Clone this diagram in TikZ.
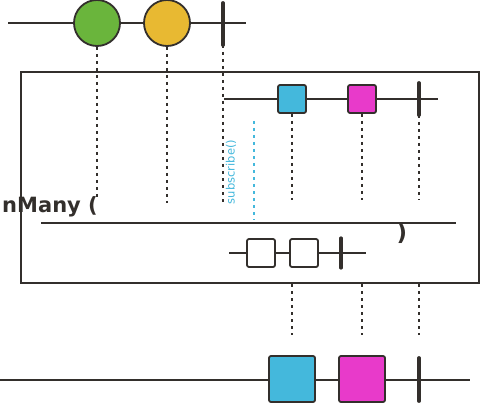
\documentclass[tikz,border=0pt]{standalone}
\usepackage{fontspec}
\setmainfont{DejaVu Sans}
\usetikzlibrary{positioning}
\definecolor{ink}{HTML}{332F2C}
\definecolor{lime}{HTML}{6AB53C}
\definecolor{gold}{HTML}{E8B932}
\definecolor{sky}{HTML}{44B8DC}
\definecolor{pink}{HTML}{E83ACA}

\begin{document}
\begin{tikzpicture}[x=1pt,y=-1pt]
\tikzstyle{marble}=[circle,draw=ink,line width=1.8pt,minimum size=46pt,inner sep=0pt]
\tikzstyle{item}=[draw=ink,line width=1.8pt,rounded corners=2pt,minimum size=28pt,inner sep=0pt]
\tikzstyle{bigitem}=[item,minimum size=46pt]
\tikzstyle{timeline}=[draw=ink,line width=1.9pt]
\tikzstyle{done}=[draw=ink,line width=3.8pt,line cap=round]
\tikzstyle{drop}=[draw=ink,line width=2pt,dash pattern=on 3pt off 4pt]
\useasboundingbox (0,0) rectangle (496,404);
% source
\foreach \name/\point in {
	s0/{8,23},
	s1/{246,23},
	st/{223,3},
	sb/{223,45}}
	\coordinate (\name) at (\point);
\draw[timeline] (s0) -- (s1);
\node[marble,fill=lime] (green) at (97,23) {};
\node[marble,fill=gold] (yellow) at (167,23) {};
\draw[done] (st) -- (sb);
% operator box
\node[draw=ink,line width=1.8pt,minimum width=458pt,minimum height=211pt,inner sep=0pt] (frame) at (250,177.5) {};
\foreach \name/\point in {
	i0/{224,99},
	i1/{438,99},
	it/{419,83},
	ib/{419,115},
	m0/{41,223},
	m1/{456,223},
	w0/{229,253},
	w1/{366,253},
	wt/{341,238},
	wb/{341,268},
	sub0/{254,121},
	sub1/{254,220}}
	\coordinate (\name) at (\point);
\draw[timeline] (i0) -- (i1);
\node[item,fill=sky] (inblue) at (292,99) {};
\node[item,fill=pink] (inpink) at (362,99) {};
\draw[done] (it) -- (ib);
\draw[timeline] (m0) -- (m1);
\draw[timeline] (w0) -- (w1);
\node[item,fill=white] (win1) at (261,253) {};
\node[item,fill=white] (win2) at (304,253) {};
\draw[done,line width=3.2pt] (wt) -- (wb);
\draw[sky,line width=2pt,dash pattern=on 3pt off 4pt] (sub0) -- (sub1);
\node[sky,rotate=90,font=\fontsize{11.5}{12}\selectfont,inner sep=0pt] (subscr) at (231,172) {subscribe()};
\node[ink,anchor=base east,font=\fontsize{21}{22}\selectfont\bfseries,inner sep=0pt] (opname) at (98,212) {nMany (};
\node[ink,font=\fontsize{23}{24}\selectfont\bfseries,inner sep=0pt] (close) at (402,233) {)};
% result
\foreach \name/\point in {
	r0/{0,380},
	r1/{470,380},
	rt/{419,358},
	rb/{419,401}}
	\coordinate (\name) at (\point);
\draw[timeline] (r0) -- (r1);
\node[bigitem,fill=sky] (outblue) at (292,379) {};
\node[bigitem,fill=pink] (outpink) at (362,379) {};
\draw[done] (rt) -- (rb);
% drops
\foreach \name/\point in {
	dg/{97,200},
	dy/{167,203},
	ds/{223,205},
	db/{292,200},
	dp/{362,200},
	di/{419,200},
	ub/{292,284},
	up/{362,284},
	ui/{419,284},
	lb/{292,335},
	lp/{362,335},
	li/{419,335}}
	\coordinate (\name) at (\point);
\draw[drop] (green.south) -- (dg);
\draw[drop] (yellow.south) -- (dy);
\draw[drop] (sb) -- (ds);
\draw[drop] (inblue.south) -- (db);
\draw[drop] (inpink.south) -- (dp);
\draw[drop] (ib) -- (di);
\draw[drop] (ub) -- (lb);
\draw[drop] (up) -- (lp);
\draw[drop] (ui) -- (li);
\end{tikzpicture}
\end{document}
